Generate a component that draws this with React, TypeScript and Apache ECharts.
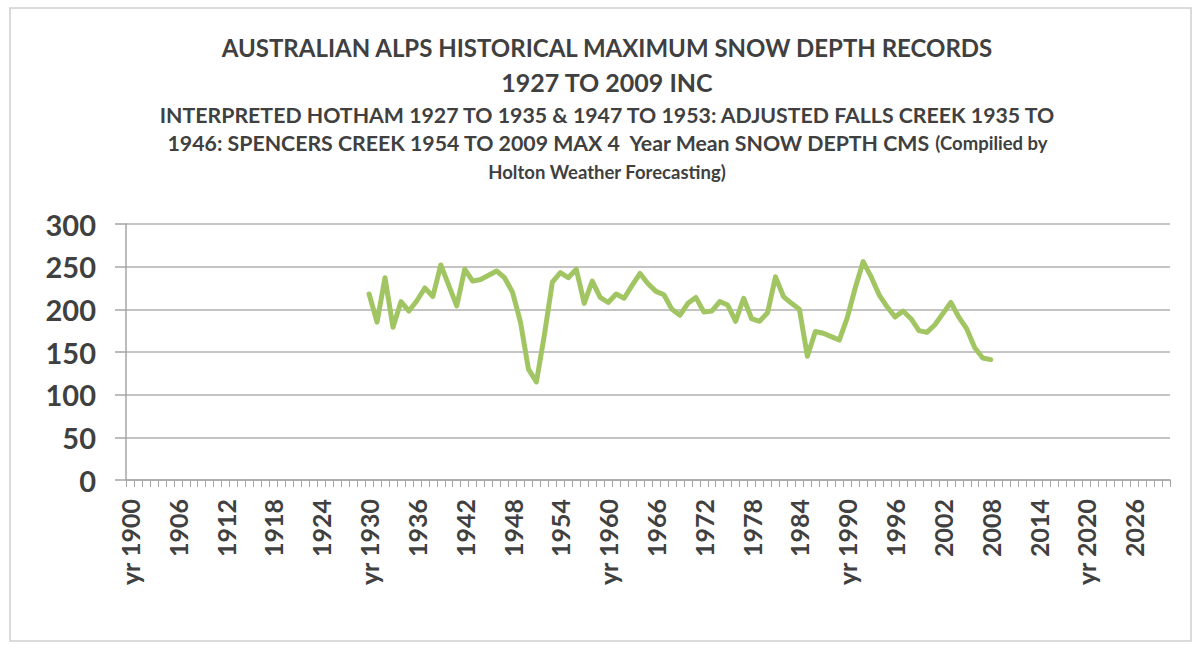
import React, { useEffect, useRef } from "react";
import * as echarts from "echarts";

const firstYear = 1900;
const lastYear = 2030;
const yrPrefixed = [1900, 1930, 1960, 1990, 2020];
const dataStartYear = 1930;
const snowDepth = [
  218, 185, 237, 179, 209, 198, 210, 225, 215, 252, // 1930-1939
  228, 204, 247, 233, 235, 240, 245, 237, 220, 185, // 1940-1949
  130, 115, 170, 232, 243, 237, 247, 207, 233, 214, // 1950-1959
  208, 218, 213, 228, 242, 230, 221, 217, 200, 193, // 1960-1969
  207, 214, 197, 198, 209, 205, 186, 213, 189, 186, // 1970-1979
  196, 238, 215, 207, 200, 145, 174, 172, 168, 164, // 1980-1989
  190, 225, 256, 238, 217, 203, 191, 198, 189, 175, // 1990-1999
  173, 182, 195, 208, 191, 177, 155, 143, 141, // 2000-2008
];
const yTicks = [0, 50, 100, 150, 200, 250, 300];

const years: number[] = [];
for (let y = firstYear; y <= lastYear; y++) years.push(y);
const categories = years.map((y) => (yrPrefixed.includes(y) ? `yr ${y}` : `${y}`));
const seriesData = years.map((y) => {
  const i = y - dataStartYear;
  return i >= 0 && i < snowDepth.length ? snowDepth[i] : null;
});

const FONT = "Lato, 'Open Sans', sans-serif";
const TXT = "#404040";

export default function App() {
  const ref = useRef<HTMLDivElement>(null);
  useEffect(() => {
    if (!ref.current) return;
    const chart = echarts.init(ref.current, undefined, { renderer: "svg" });
    const cx = 607;
    chart.setOption({
      animation: false,
      backgroundColor: "#ffffff",
      graphic: [
        {
          type: "rect",
          shape: { x: 10, y: 8, width: 1181, height: 633 },
          style: { fill: "none", stroke: "#d0d0d0", lineWidth: 1.5 },
          silent: true,
        },
        {
          type: "text",
          x: cx,
          y: 47,
          style: {
            text: "AUSTRALIAN ALPS HISTORICAL MAXIMUM SNOW DEPTH RECORDS",
            fontFamily: FONT,
            fontWeight: "bold",
            fontSize: 24,
            fill: TXT,
            align: "center",
            verticalAlign: "middle",
          },
        },
        {
          type: "text",
          x: cx,
          y: 82,
          style: {
            text: "1927 TO 2009 INC",
            fontFamily: FONT,
            fontWeight: "bold",
            fontSize: 25,
            fill: TXT,
            align: "center",
            verticalAlign: "middle",
          },
        },
        {
          type: "text",
          x: cx,
          y: 115,
          style: {
            text: "INTERPRETED HOTHAM 1927 TO 1935 & 1947 TO 1953: ADJUSTED FALLS CREEK 1935 TO",
            fontFamily: FONT,
            fontWeight: "bold",
            fontSize: 21.3,
            fill: TXT,
            align: "center",
            verticalAlign: "middle",
          },
        },
        {
          type: "text",
          x: cx,
          y: 143,
          style: {
            text: "{a|1946: SPENCERS CREEK 1954 TO 2009 MAX 4  Year Mean SNOW DEPTH CMS }{b|(Compilied by}",
            fontFamily: FONT,
            fontWeight: "bold",
            fill: TXT,
            align: "center",
            verticalAlign: "middle",
            rich: {
              a: { fontFamily: FONT, fontWeight: "bold", fontSize: 21.3, fill: TXT },
              b: { fontFamily: FONT, fontWeight: "bold", fontSize: 18.5, fill: TXT },
            },
          },
        },
        {
          type: "text",
          x: cx,
          y: 172,
          style: {
            text: "Holton Weather Forecasting)",
            fontFamily: FONT,
            fontWeight: "bold",
            fontSize: 18.5,
            fill: TXT,
            align: "center",
            verticalAlign: "middle",
          },
        },
      ],
      grid: { left: 126, right: 29, top: 224, bottom: 165, containLabel: false },
      xAxis: {
        type: "category",
        data: categories,
        boundaryGap: true,
        axisLine: { show: true, lineStyle: { color: "#a6a6a6", width: 1.5 } },
        axisTick: { show: true, interval: 0, length: 7, lineStyle: { color: "#a6a6a6", width: 1 } },
        axisLabel: {
          interval: 5,
          rotate: 90,
          margin: 19,
          fontFamily: FONT,
          fontWeight: "bold",
          fontSize: 25,
          color: TXT,
        },
        splitLine: { show: false },
      },
      yAxis: {
        type: "value",
        min: 0,
        max: 300,
        interval: 50,
        axisLine: { show: true, lineStyle: { color: "#a6a6a6", width: 1.5 } },
        axisTick: { show: true, length: 11, lineStyle: { color: "#a6a6a6", width: 1.5 } },
        axisLabel: {
          margin: 30,
          fontFamily: FONT,
          fontWeight: "bold",
          fontSize: 29,
          color: TXT,
          formatter: (v: number) => (yTicks.includes(v) ? `${v}` : ""),
        },
        splitLine: { show: true, lineStyle: { color: "#b0b0b0", width: 1.5 } },
      },
      series: [
        {
          type: "line",
          data: seriesData,
          showSymbol: false,
          symbol: "none",
          connectNulls: false,
          lineStyle: { color: "#a2c563", width: 5, join: "round", cap: "round" },
          itemStyle: { color: "#a2c563" },
        },
      ],
    });
    return () => chart.dispose();
  }, []);
  return (
    <div
      ref={ref}
      style={{ position: "fixed", left: 0, top: 0, width: 1199, height: 645, background: "#fff" }}
    />
  );
}
